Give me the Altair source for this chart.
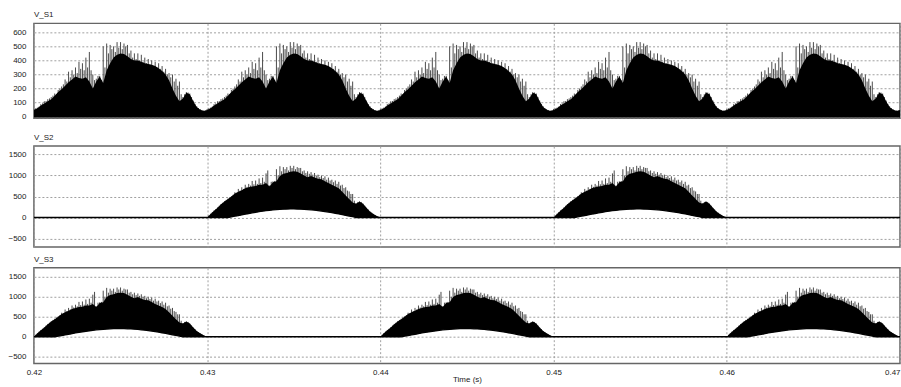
import altair as alt
import pandas as pd

# ---- data (one 10 ms period; sample steps in ms) ----
T0 = 0.42
PERIOD = 0.01
ENV_STEP_MS = 0.2      # spacing of envelope samples
SPIKE_STEP_MS = 0.1    # spacing of spike samples
N_PERIODS = 5

# V_S1: top of the solid black band, t = 0.0 .. 9.8 ms
s1_hi = [48, 60, 80, 95, 110, 125, 150, 175, 195, 220,
         245, 265, 285, 275, 270, 280, 250, 200, 250, 285,
         240, 330, 380, 420, 440, 450, 445, 430, 410, 400,
         400, 390, 380, 375, 370, 360, 345, 325, 300, 260,
         200, 150, 110, 130, 170, 160, 110, 70, 50, 40]
s1_lo = [0] * 50
# V_S1: spike tips, t = 0.0 .. 9.9 ms
s1_spike = [55, 60, 65, 72, 90, 95, 110, 112, 125, 130,
            140, 150, 165, 160, 190, 200, 215, 230, 265, 250,
            320, 280, 330, 300, 350, 310, 390, 340, 380, 330,
            420, 350, 460, 330, 300, 260, 270, 290, 290, 260,
            500, 350, 520, 450, 510, 480, 500, 460, 530, 490,
            530, 480, 520, 500, 510, 450, 470, 420, 450, 410,
            450, 400, 440, 390, 420, 380, 410, 370, 400, 360,
            390, 350, 380, 340, 360, 320, 340, 300, 310, 280,
            300, 250, 270, 220, 250, 160, 140, 160, 175, 172,
            165, 140, 115, 90, 75, 62, 55, 48, 45, 44]

# V_S2 / V_S3 active half-period (same shape), t = 0.0 .. 9.8 ms
s23_hi = [0, 85, 160, 230, 315, 380, 440, 500, 570, 610,
          650, 695, 720, 740, 750, 780, 780, 820, 740, 840,
          860, 990, 1040, 1060, 1090, 1100, 1090, 1050, 1000, 960,
          990, 950, 920, 910, 865, 820, 780, 740, 695, 610,
          525, 440, 355, 330, 380, 330, 230, 145, 85, 35]
s23_lo = [0, 0, 0, 0, 0, 0, 0, 15, 30, 45,
          60, 78, 95, 110, 125, 138, 150, 162, 172, 180,
          188, 194, 198, 201, 203, 203, 202, 199, 195, 189,
          182, 174, 165, 154, 142, 129, 115, 100, 85, 68,
          50, 34, 18, 0, 0, 0, 0, 0, 0, 0]
s23_spike = [0, 50, 90, 130, 170, 200, 240, 280, 320, 350,
             390, 420, 450, 480, 510, 540, 600, 580, 680, 640,
             720, 680, 780, 730, 800, 760, 870, 790, 880, 800,
             930, 820, 950, 850, 1050, 1120, 760, 850, 860, 870,
             1150, 1000, 1220, 1100, 1200, 1150, 1200, 1120, 1230, 1180,
             1230, 1150, 1200, 1180, 1180, 1100, 1120, 1060, 1100, 1040,
             1080, 1020, 1060, 1000, 1020, 960, 1000, 940, 980, 900,
             950, 880, 900, 840, 880, 800, 850, 760, 780, 700,
             720, 640, 620, 560, 560, 400, 340, 370, 380, 370,
             330, 280, 230, 190, 145, 115, 85, 60, 35, 15]

s1_active = [0, 1, 2, 3, 4]
s2_active = [1, 3]
s3_active = [0, 2, 4]

x_ticks = [0.42, 0.43, 0.44, 0.45, 0.46, 0.47]
y1_ticks = [0, 100, 200, 300, 400, 500, 600]
y23_ticks = [-500, 0, 500, 1000, 1500]

FONT = "Liberation Sans"
TXT = "#222222"
GRID = "#a0a0a0"


def build(active, hi, lo, spikes):
    env, sp = [], []
    ratio = int(round(ENV_STEP_MS / SPIKE_STEP_MS))
    for p in range(N_PERIODS):
        on = p in active
        for k in range(len(hi)):
            t = T0 + p * PERIOD + k * ENV_STEP_MS / 1000
            env.append({"t": t, "hi": hi[k] if on else 0, "lo": lo[k] if on else 0})
        if on:
            for k, v in enumerate(spikes):
                sp.append({"t": T0 + p * PERIOD + k * SPIKE_STEP_MS / 1000,
                           "peak": v, "base": lo[k // ratio]})
    last_on = (N_PERIODS - 1) in active
    end_hi = hi[0] if (last_on and hi[0] > 0) else 0
    env.append({"t": T0 + N_PERIODS * PERIOD, "hi": end_hi, "lo": 0})
    return pd.DataFrame(env), pd.DataFrame(sp)


def panel(name, env, sp, ydom, yticks, h, bottom):
    if bottom:
        xaxis = alt.Axis(values=x_ticks, format=".2f", title="Time (s)", grid=True,
                         gridDash=[2, 2], gridColor=GRID, ticks=False, domain=False,
                         labelFont=FONT, labelFontSize=8, labelColor=TXT, labelPadding=5,
                         labelAlign=alt.condition("datum.value >= 0.4699",
                                                  alt.value("right"), alt.value("center")),
                         titleFont=FONT, titleFontSize=8, titleFontWeight="normal",
                         titleColor=TXT, titlePadding=-1)
    else:
        xaxis = alt.Axis(values=x_ticks, labels=False, ticks=False, domain=False, title=None,
                         grid=True, gridDash=[2, 2], gridColor=GRID,
                         minExtent=0, maxExtent=0)
    xs = alt.Scale(domain=[0.42, 0.47], nice=False, zero=False)
    ys = alt.Scale(domain=ydom, nice=False, zero=False)
    yaxis = alt.Axis(values=yticks, format="d", title=None, grid=True, gridDash=[2, 2],
                     gridColor=GRID, ticks=False, domain=False,
                     labelFont=FONT, labelFontSize=8, labelColor=TXT, labelPadding=8,
                     minExtent=28, maxExtent=28)
    x = alt.X("t:Q", scale=xs, axis=xaxis)
    layers = []
    if len(sp):
        layers.append(alt.Chart(sp).mark_rule(color="#4a4a4a", strokeWidth=1, clip=True)
                      .encode(x=x, y=alt.Y("peak:Q", scale=ys, axis=yaxis), y2="base:Q"))
    layers.append(alt.Chart(env).mark_area(color="black", clip=True)
                  .encode(x=x, y=alt.Y("hi:Q", scale=ys, axis=yaxis), y2="lo:Q"))
    layers.append(alt.Chart(env).mark_line(color="black", strokeWidth=1.3, clip=True)
                  .encode(x=x, y=alt.Y("lo:Q", scale=ys, axis=yaxis)))
    return alt.layer(*layers).properties(
        width=868, height=h,
        title=alt.TitleParams(name, anchor="start", frame="group", font=FONT, fontSize=8,
                              fontWeight="normal", color=TXT, offset=4))


e1, sp1 = build(s1_active, s1_hi, s1_lo, s1_spike)
e2, sp2 = build(s2_active, s23_hi, s23_lo, s23_spike)
e3, sp3 = build(s3_active, s23_hi, s23_lo, s23_spike)

p1 = panel("V_S1", e1, sp1, [-10, 663], y1_ticks, 95, False)
p2 = panel("V_S2", e2, sp2, [-700, 1700], y23_ticks, 101, False)
p3 = panel("V_S3", e3, sp3, [-670, 1720], y23_ticks, 96, True)

chart = alt.vconcat(alt.vconcat(p1, p2, spacing=11), p3, spacing=7).properties(
    padding={"left": 5, "top": 10, "right": 0, "bottom": 0},
    background="white",
).configure_view(stroke="#666666", strokeWidth=1.5)

chart.save("out.html", embed_options={"renderer": "svg", "actions": False})
